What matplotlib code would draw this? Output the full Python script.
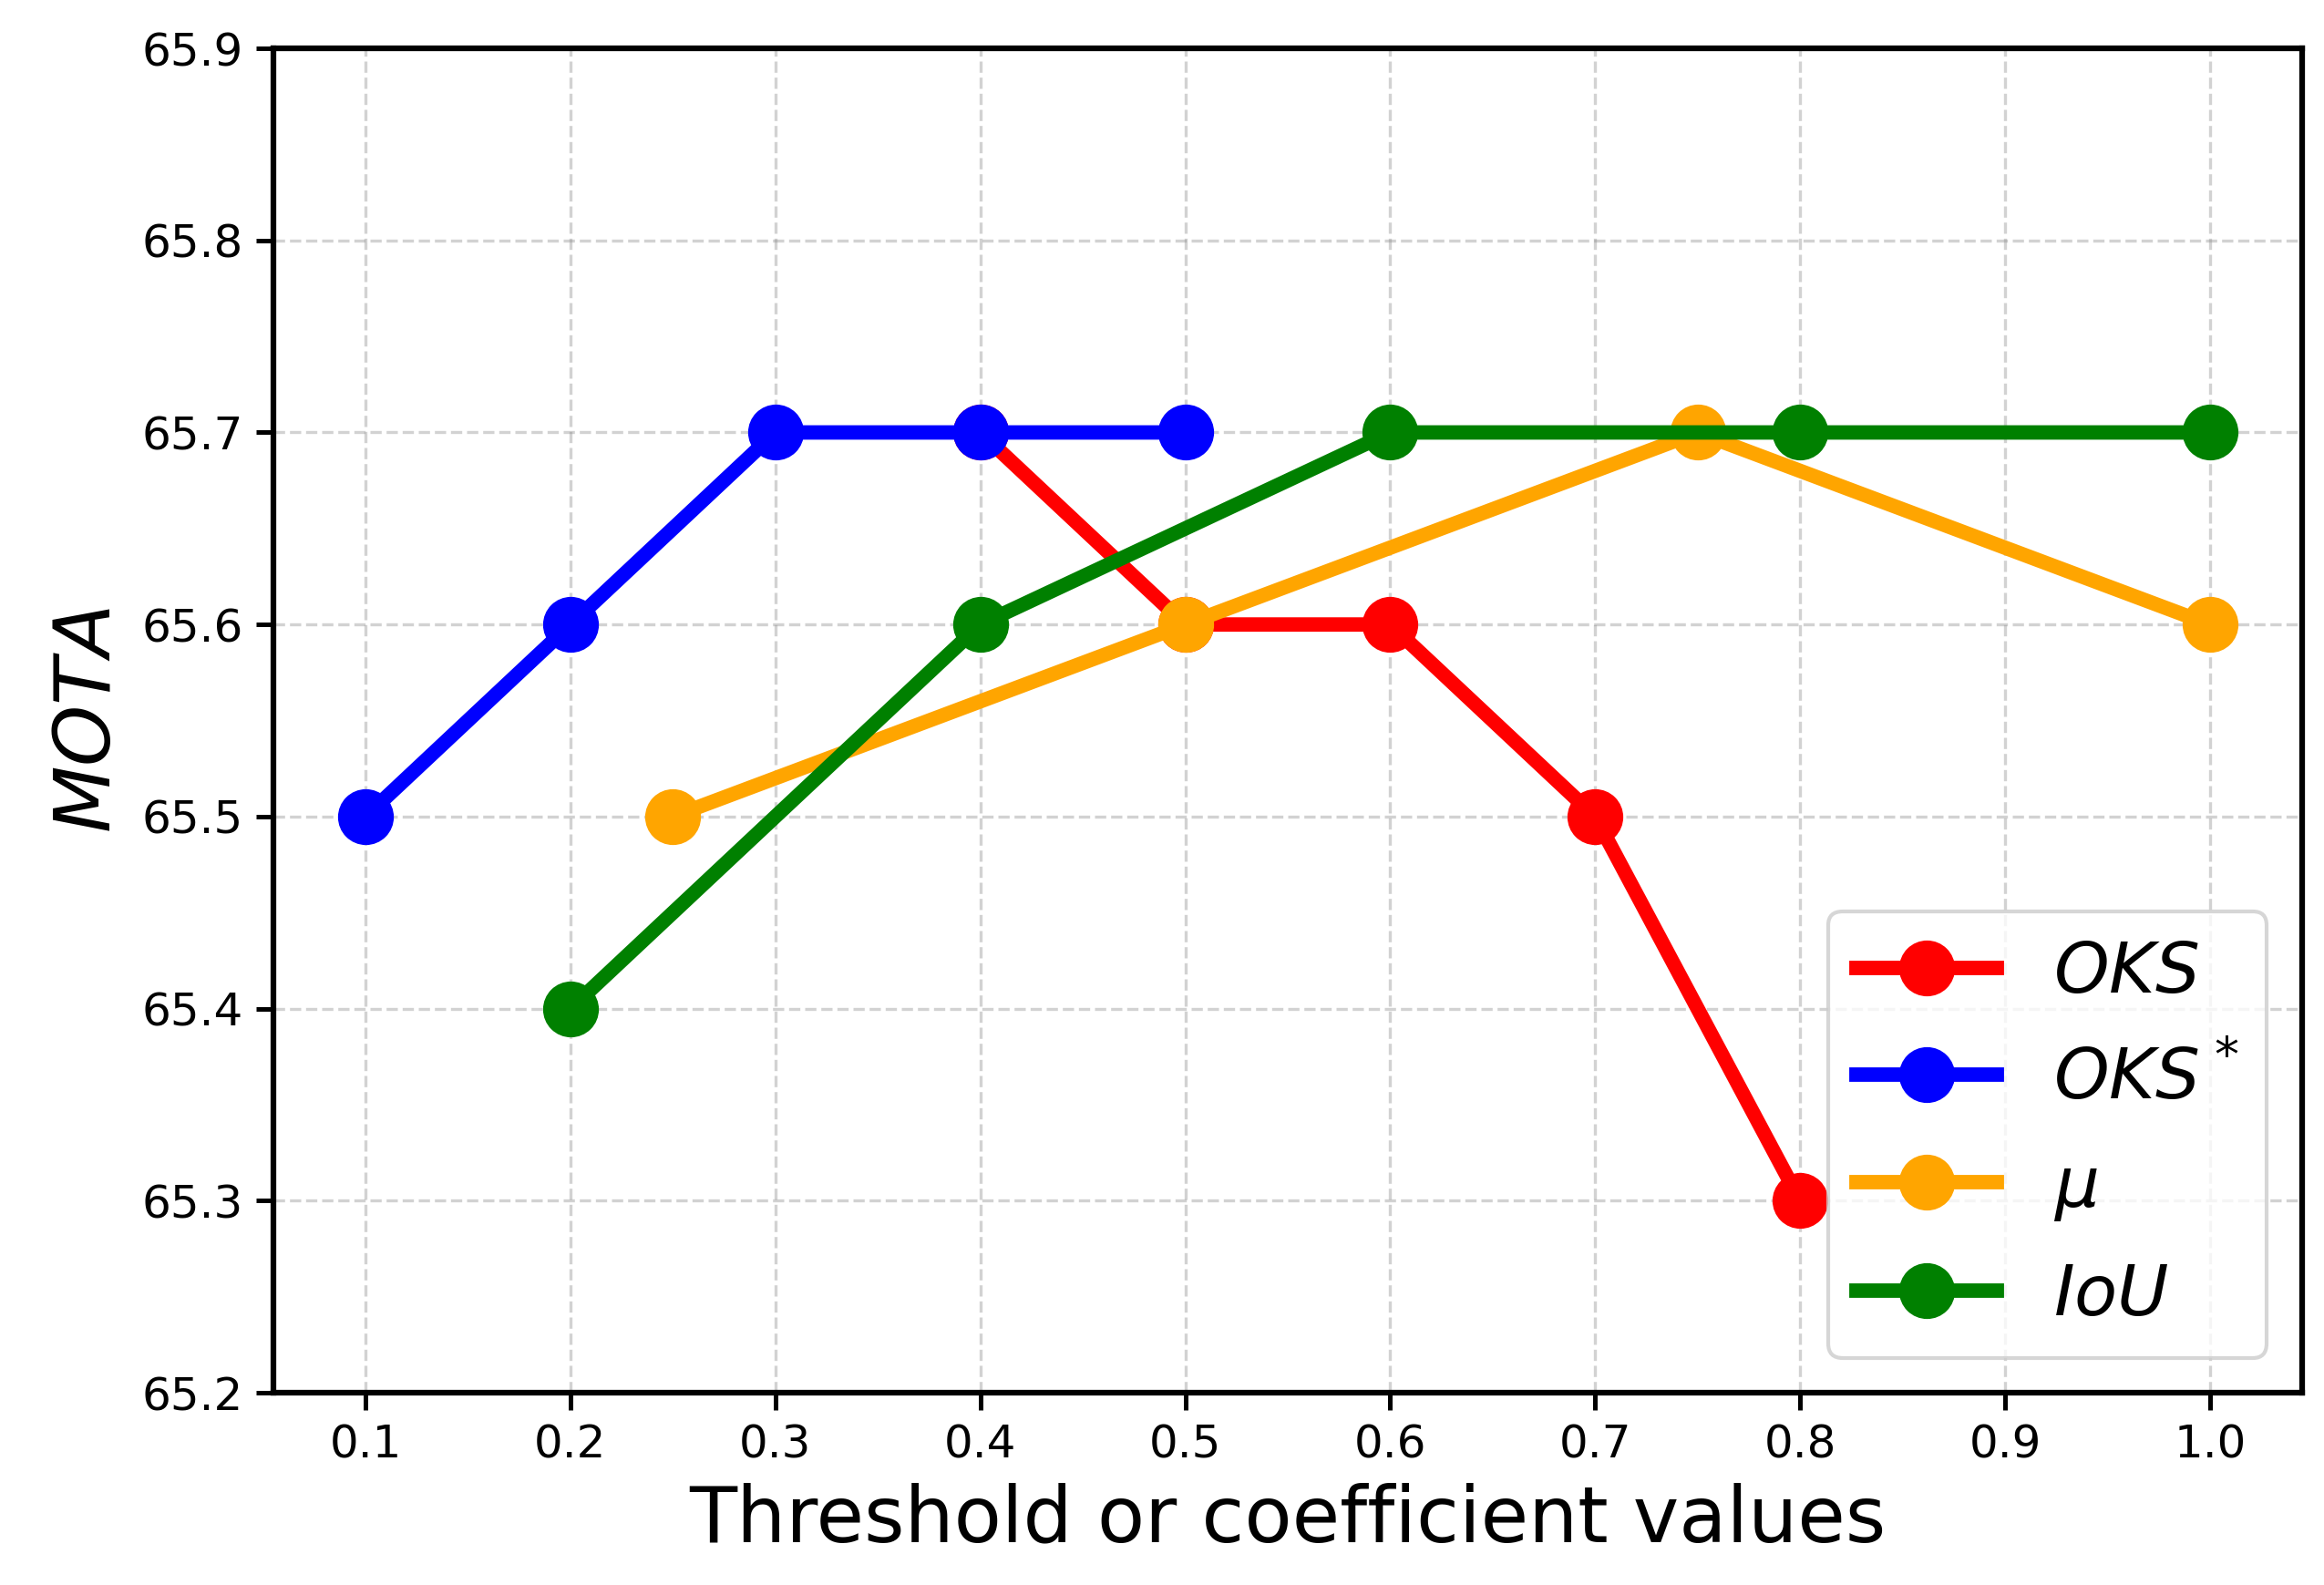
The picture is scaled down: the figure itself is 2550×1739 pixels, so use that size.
import numpy as np
import matplotlib
matplotlib.use("Agg")
import matplotlib.pyplot as plt

# values
oks_x = [0.4, 0.5, 0.6, 0.7, 0.8]
oks_y = [65.7, 65.6, 65.6, 65.5, 65.3]

oks_star_x = [0.1, 0.2, 0.3, 0.4, 0.5]
oks_star_y = [65.5, 65.6, 65.7, 65.7, 65.7]

mu_x = [0.25, 0.5, 0.75, 1.0]
mu_y = [65.5, 65.6, 65.7, 65.6]

iou_x = [0.2, 0.4, 0.6, 0.8, 1.0]
iou_y = [65.4, 65.6, 65.7, 65.7, 65.7]

x_ticks = [0.1, 0.2, 0.3, 0.4, 0.5, 0.6, 0.7, 0.8, 0.9, 1.0]
y_ticks = [65.2, 65.3, 65.4, 65.5, 65.6, 65.7, 65.8, 65.9]

fig = plt.figure(figsize=(8.5, 1739 / 300), dpi=300)
ax = fig.add_axes([0.1176, 0.1213, 0.873, 0.8482])

lw = 3.8
ms = 13.7
ax.plot(oks_x, oks_y, "-o", color="red", lw=lw, ms=ms, label="$OKS$")
ax.plot(oks_star_x, oks_star_y, "-o", color="blue", lw=lw, ms=ms, label="$OKS^*$")
ax.plot(mu_x, mu_y, "-o", color="orange", lw=lw, ms=ms, label=r"$\mu$")
ax.plot(iou_x, iou_y, "-o", color="green", lw=lw, ms=ms, label="$IoU$")

ax.set_xticks(x_ticks)
ax.set_xticklabels([f"{v:.1f}" for v in x_ticks])
ax.set_yticks(y_ticks)
ax.set_yticklabels([f"{v:.1f}" for v in y_ticks])
ax.set_ylim(65.2, 65.9)
ax.tick_params(labelsize=12, length=4.5, width=1.2)

for s in ax.spines.values():
	s.set_linewidth(1.5)

ax.grid(True, linestyle="--", color="gray", alpha=0.35, linewidth=0.8)

ax.set_xlabel("Threshold or coefficient values", fontsize=20.5)
ax.set_ylabel("$MOTA$", fontsize=20.5)

ax.legend(loc="lower right", fontsize=18.5, handlelength=2.0, labelspacing=0.56)

fig.savefig("out.png", dpi=300)
